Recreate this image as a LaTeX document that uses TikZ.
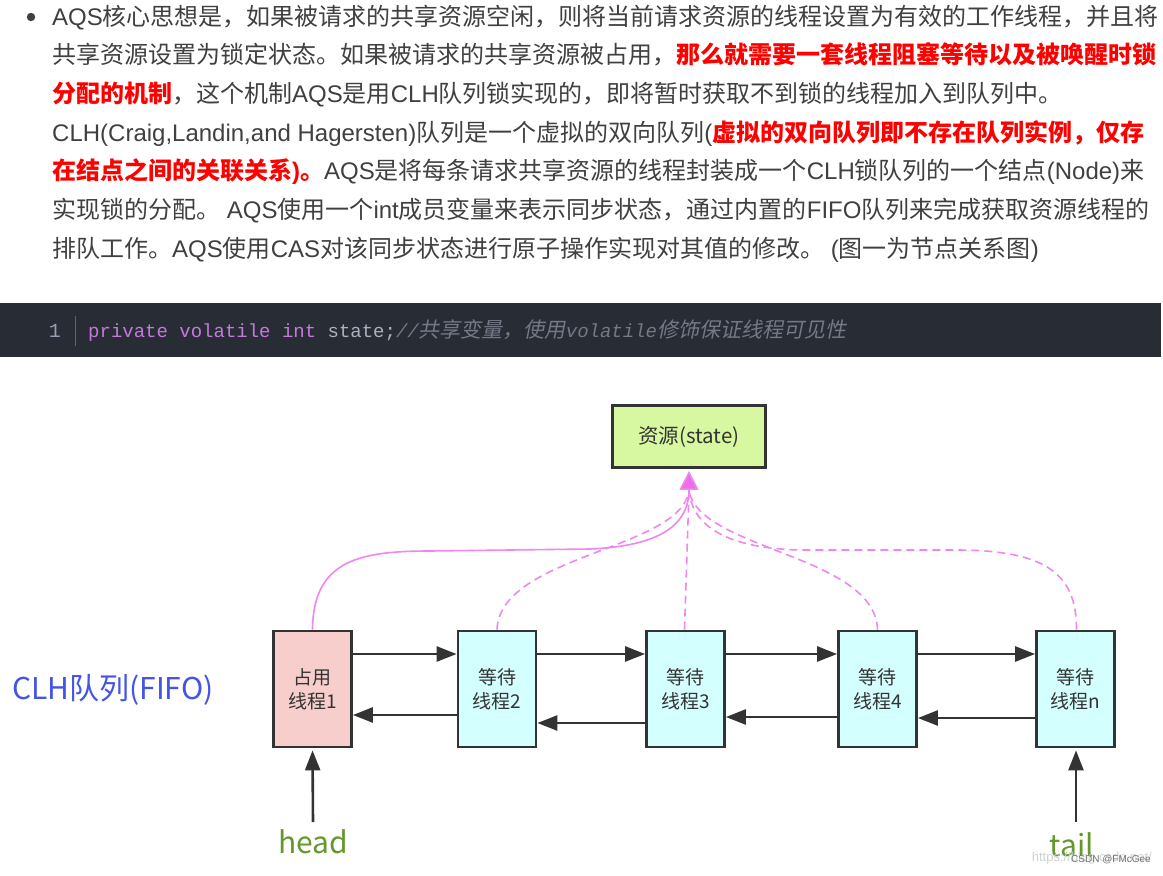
\documentclass[tikz,border=0pt]{standalone}
\usepackage{fontspec}
\setmainfont{Noto Sans CJK SC}
\newfontfamily\lat{Liberation Sans}
\newfontfamily\mono{Liberation Mono}
\newfontfamily\zhit{Noto Sans CJK SC}[FakeSlant=0.2]
\usetikzlibrary{arrows.meta}
\definecolor{txt}{RGB}{64,64,64}
\definecolor{hot}{RGB}{255,0,0}
\definecolor{codebg}{RGB}{40,44,52}
\definecolor{kw}{RGB}{198,120,221}
\definecolor{codefg}{RGB}{171,178,191}
\definecolor{cmt}{RGB}{115,121,134}
\definecolor{lnum}{RGB}{150,160,180}
\definecolor{boxline}{RGB}{51,51,51}
\definecolor{resfill}{RGB}{215,248,160}
\definecolor{pinkfill}{RGB}{248,206,204}
\definecolor{cyanfill}{RGB}{212,255,255}
\definecolor{mag}{RGB}{240,135,240}
\definecolor{magh}{RGB}{235,110,235}
\definecolor{clhblue}{RGB}{68,84,230}
\definecolor{htgreen}{RGB}{100,152,45}
\newcommand\EN[1]{{\lat #1}}
\newcommand\RB[1]{{\color{hot}\bfseries #1}}
\begin{document}
\begin{tikzpicture}[x=1pt,y=-1pt,
  body/.style={anchor=base west, inner sep=0pt, font=\fontsize{24}{24}\selectfont, text=txt},
  box/.style={draw=boxline, line width=2.8pt, minimum width=78pt, minimum height=116pt,
    inner sep=0pt, align=center, font=\fontsize{19}{24}\selectfont, text=boxline},
  arr/.style={draw=boxline, line width=2.6pt, -{Triangle[length=20pt,width=15pt]}},
  magsolid/.style={draw=mag, line width=1.6pt},
  magdash/.style={draw=mag, line width=1.6pt, dash pattern=on 8pt off 5pt},
  htlabel/.style={inner sep=0pt, text=htgreen, font=\fontsize{30}{30}\selectfont}
]
\useasboundingbox (0,0) rectangle (1163,876);
\fill[white] (0,0) rectangle (1163,876);

% ---- paragraph ----
\fill[txt] (31,17) circle (4.2pt);
\node[body] (l1) at (52,25) {\EN{AQS}核心思想是，如果被请求的共享资源空闲，则将当前请求资源的线程设置为有效的工作线程，并且将};
\node[body] (l2) at (52,63.7) {共享资源设置为锁定状态。如果被请求的共享资源被占用，\RB{那么就需要一套线程阻塞等待以及被唤醒时锁}};
\node[body] (l3) at (52,102.4) {\RB{分配的机制}，这个机制\EN{AQS}是用\EN{CLH}队列锁实现的，即将暂时获取不到锁的线程加入到队列中。};
\node[body] (l4) at (52,141) {\EN{CLH(Craig,Landin,and Hagersten)}队列是一个虚拟的双向队列\EN{(}\RB{虚拟的双向队列即不存在队列实例，仅存}};
\node[body] (l5) at (52,179.8) {\RB{在结点之间的关联关系\EN{)}。}\EN{AQS}是将每条请求共享资源的线程封装成一个\EN{CLH}锁队列的一个结点\EN{(Node)}来};
\node[body] (l6) at (52,218.5) {实现锁的分配。\EN{\ AQS}使用一个\EN{int}成员变量来表示同步状态，通过内置的\EN{FIFO}队列来完成获取资源线程的};
\node[body] (l7) at (52,257.2) {排队工作。\EN{AQS}使用\EN{CAS}对该同步状态进行原子操作实现对其值的修改。\EN{\ (}图一为节点关系图\EN{)}};

% ---- code bar ----
\fill[codebg] (0,303) rectangle (1161,357);
\node[anchor=base, inner sep=0pt, text=lnum, font=\mono\fontsize{20}{20}\selectfont] (ln) at (55,337) {1};
\draw[draw={rgb,255:red,95;green,100;blue,112}, line width=1pt] (75,316) -- (75,346);
\node[anchor=base west, inner sep=0pt, font=\fontsize{19}{19}\selectfont] (code) at (88,337)
  {{\mono\color{kw}private volatile int }{\mono\color{codefg}state;}{\color{cmt}{\mono\itshape //}{\zhit\fontsize{21}{21}\selectfont 共享变量，使用}{\mono\itshape volatile}{\zhit\fontsize{21}{21}\selectfont 修饰保证线程可见性}}};

% ---- diagram ----
\node[draw=boxline, fill=resfill, line width=2.8pt, minimum width=153pt, minimum height=62pt,
  inner sep=0pt, font=\fontsize{20.5}{20.5}\selectfont, text=boxline] (res) at (689,436.5) {资源(state)};

\node[box, fill=pinkfill] (n1) at (312.5,689) {占用\\线程1};
\node[box, fill=cyanfill] (n2) at (497,689) {等待\\线程2};
\node[box, fill=cyanfill] (n3) at (685.5,689) {等待\\线程3};
\node[box, fill=cyanfill] (n4) at (877.5,689) {等待\\线程4};
\node[box, fill=cyanfill] (nn) at (1075.5,689) {等待\\线程n};

\node[anchor=west, inner sep=0pt, text=clhblue, font=\fontsize{30}{30}\selectfont] (clh) at (12,690) {CLH队列(FIFO)};

% forward arrows
\draw[arr] ([yshift=35pt]n1.east) -- ([yshift=35pt]n2.west);
\draw[arr] ([yshift=35pt]n2.east) -- ([yshift=35pt]n3.west);
\draw[arr] ([yshift=35pt]n3.east) -- ([yshift=35pt]n4.west);
\draw[arr] ([yshift=35pt]n4.east) -- ([yshift=35pt]nn.west);
% backward arrows
\draw[arr] ([yshift=-26pt]n2.west) -- ([yshift=-26pt]n1.east);
\draw[arr] ([yshift=-34pt]n3.west) -- ([yshift=-34pt]n2.east);
\draw[arr] ([yshift=-28pt]n4.west) -- ([yshift=-28pt]n3.east);
\draw[arr] ([yshift=-29pt]nn.west) -- ([yshift=-29pt]n4.east);

% magenta links to resource
\coordinate (conv) at (689,491);
\draw[magdash] (n2.north) .. controls (500,555) and (680,550) .. (conv);
\draw[magdash] ([xshift=-1pt]n3.north) -- (conv);
\draw[magdash] (n4.north) .. controls (875,555) and (700,550) .. (conv);
\draw[magdash] ([xshift=1pt]nn.north) .. controls (1077,570) and (1040,551) .. (960,550) -- (800,550) .. controls (720,548) and (692,522) .. (conv);
\draw[magsolid, -{Triangle[length=19pt,width=19pt,fill=magh]}, shorten >=2pt]
  (n1.north) .. controls (313,560) and (360,551) .. (430,551) -- (590,549) .. controls (660,546) and (689,525) .. (res.south);

% head / tail
\node[htlabel] (hd) at (313,842) {head};
\node[htlabel] (tl) at (1072,845) {tail};
\coordinate (hs) at (313,822);
\coordinate (ts) at (1076,822);
\draw[arr, shorten >=2pt] (hs) -- (n1.south);
\draw[arr, shorten >=2pt] (ts) -- (n1.south -| ts);

% watermarks
\node[anchor=base east, inner sep=0pt, text=black!18, font=\lat\fontsize{13}{13}\selectfont] (wm1) at (1152,861) {https://blog.csdn.net/};
\node[anchor=base east, inner sep=0pt, text=black!55, font=\lat\fontsize{10}{10}\selectfont] (wm2) at (1151,862) {CSDN @FMcGee};
\end{tikzpicture}
\end{document}
